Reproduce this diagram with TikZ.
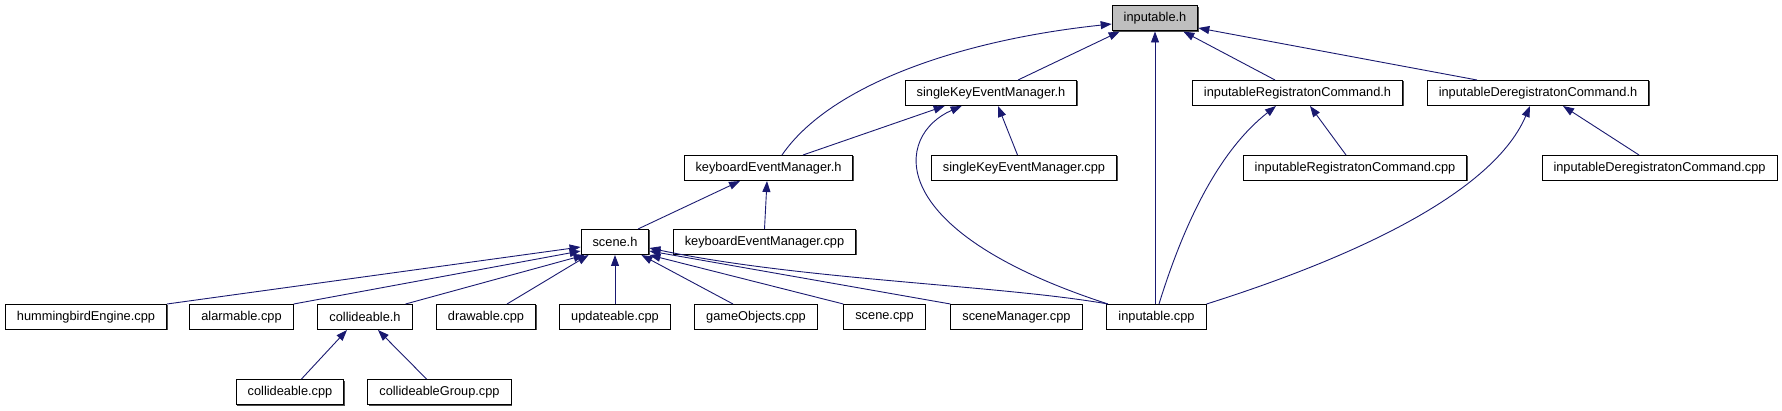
\documentclass[tikz,border=0pt]{standalone}
\usepackage{fontspec}
\setmainfont{Liberation Sans}
\usepackage{xcolor}
\usetikzlibrary{arrows.meta, shadows}
\definecolor{edgeblue}{HTML}{191970}
\definecolor{focusgray}{HTML}{BFBFBF}

\begin{document}
\begin{tikzpicture}[
  x=1pt, y=-1pt,
  filebox/.style  = {rectangle, draw=black, line width=1pt, fill=white,
                     minimum height=25pt, inner xsep=11.5pt, inner ysep=0pt,
                     font=\fontsize{12.8pt}{14pt}\selectfont,
                     drop shadow={shadow xshift=1pt, shadow yshift=-1pt,
                                  fill=black!70, opacity=1}},
  focusbox/.style = {filebox, fill=focusgray},
  dep/.style      = {-{Triangle[length=11pt, width=8pt]}, draw=edgeblue,
                     line width=0.9pt},
]
\useasboundingbox (0,0) rectangle (1782,411);

\node[focusbox] (inph)   at (1155,18.5) {inputable.h};
\node[filebox]  (skmh)   at (991,93)    {singleKeyEventManager.h};
\node[filebox]  (irch)   at (1297.5,93) {inputableRegistratonCommand.h};
\node[filebox]  (idch)   at (1538,93)   {inputableDeregistratonCommand.h};
\node[filebox]  (kemh)   at (768.5,168) {keyboardEventManager.h};
\node[filebox]  (skmc)   at (1024,168)  {singleKeyEventManager.cpp};
\node[filebox]  (ircc)   at (1355,168)  {inputableRegistratonCommand.cpp};
\node[filebox]  (idcc)   at (1659.5,168) {inputableDeregistratonCommand.cpp};
\node[filebox]  (sceneh) at (615,242)   {scene.h};
\node[filebox]  (kemc)   at (764.5,242) {keyboardEventManager.cpp};
\node[filebox]  (hbe)    at (86,317)    {hummingbirdEngine.cpp};
\node[filebox]  (alm)    at (241.5,317) {alarmable.cpp};
\node[filebox]  (colh)   at (365,317)   {collideable.h};
\node[filebox]  (drw)    at (486,317)   {drawable.cpp};
\node[filebox]  (upd)    at (615,317)   {updateable.cpp};
\node[filebox]  (gob)    at (756,317)   {gameObjects.cpp};
\node[filebox]  (scp)    at (884.5,317) {scene.cpp};
\node[filebox]  (scm)    at (1016.5,317) {sceneManager.cpp};
\node[filebox]  (inpc)   at (1156.5,317) {inputable.cpp};
\node[filebox]  (colc)   at (290,392)   {collideable.cpp};
\node[filebox]  (colg)   at (439.5,392) {collideableGroup.cpp};

\draw[dep] ([xshift=13.5pt]kemh.north) .. controls (830,85) and (960,40) .. ([yshift=-5.5pt]inph.west);
\draw[dep] ([xshift=27pt]skmh.north)   -- ([xshift=8pt]inph.south west);
\draw[dep] (inpc.north -| inph.south)  -- (inph.south);
\draw[dep] ([xshift=-22.5pt]irch.north) -- ([xshift=-15pt]inph.south east);
\draw[dep] ([xshift=-61pt]idch.north)  -- ([yshift=-9.5pt]inph.east);

\draw[dep] ([xshift=34.5pt]kemh.north) -- ([xshift=40pt]skmh.south west);
\draw[dep] ([xshift=-6.5pt]skmc.north) -- ([xshift=7pt]skmh.south);
\draw[dep] ([xshift=1.5pt]inpc.north west) .. controls (880,230) and (895,135) .. ([xshift=57pt]skmh.south west);
\draw[dep] ([xshift=-9pt]ircc.north)   -- ([xshift=12.5pt]irch.south);
\draw[dep] ([xshift=2.5pt]inpc.north)  .. controls (1185,220) and (1220,150) .. ([xshift=-21.5pt]irch.south);
\draw[dep] ([xshift=-20.5pt]idcc.north) -- ([xshift=25pt]idch.south);
\draw[dep] (inpc.north east) .. controls (1330,265) and (1490,200) .. ([xshift=-8pt]idch.south);

\draw[dep] ([xshift=23pt]sceneh.north) -- ([xshift=-28.5pt]kemh.south);
\draw[dep] (kemc.north)                -- ([xshift=-1.5pt]kemh.south);

\draw[dep] (hbe.north east)            -- ([yshift=-5pt]sceneh.west);
\draw[dep] (alm.north east)            -- ([yshift=-9pt]sceneh.west);
\draw[dep] ([xshift=-7pt]colh.north east) -- ([xshift=4pt]sceneh.south west);
\draw[dep] ([xshift=21pt]drw.north)    -- ([xshift=8pt]sceneh.south west);
\draw[dep] (upd.north)                 -- (sceneh.south);
\draw[dep] ([xshift=-23pt]gob.north)   -- ([xshift=-8pt]sceneh.south east);
\draw[dep] (scp.north west)            -- (sceneh.south east);
\draw[dep] (scm.north west)            -- ([yshift=-9pt]sceneh.east);
\draw[dep] ([xshift=1.5pt]inpc.north west) .. controls (1000,285) and (800,280) .. ([yshift=-6pt]sceneh.east);

\draw[dep] ([xshift=11.5pt]colc.north) -- ([xshift=-18pt]colh.south);
\draw[dep] ([xshift=-13pt]colg.north)  -- ([xshift=13pt]colh.south);

\end{tikzpicture}
\end{document}
